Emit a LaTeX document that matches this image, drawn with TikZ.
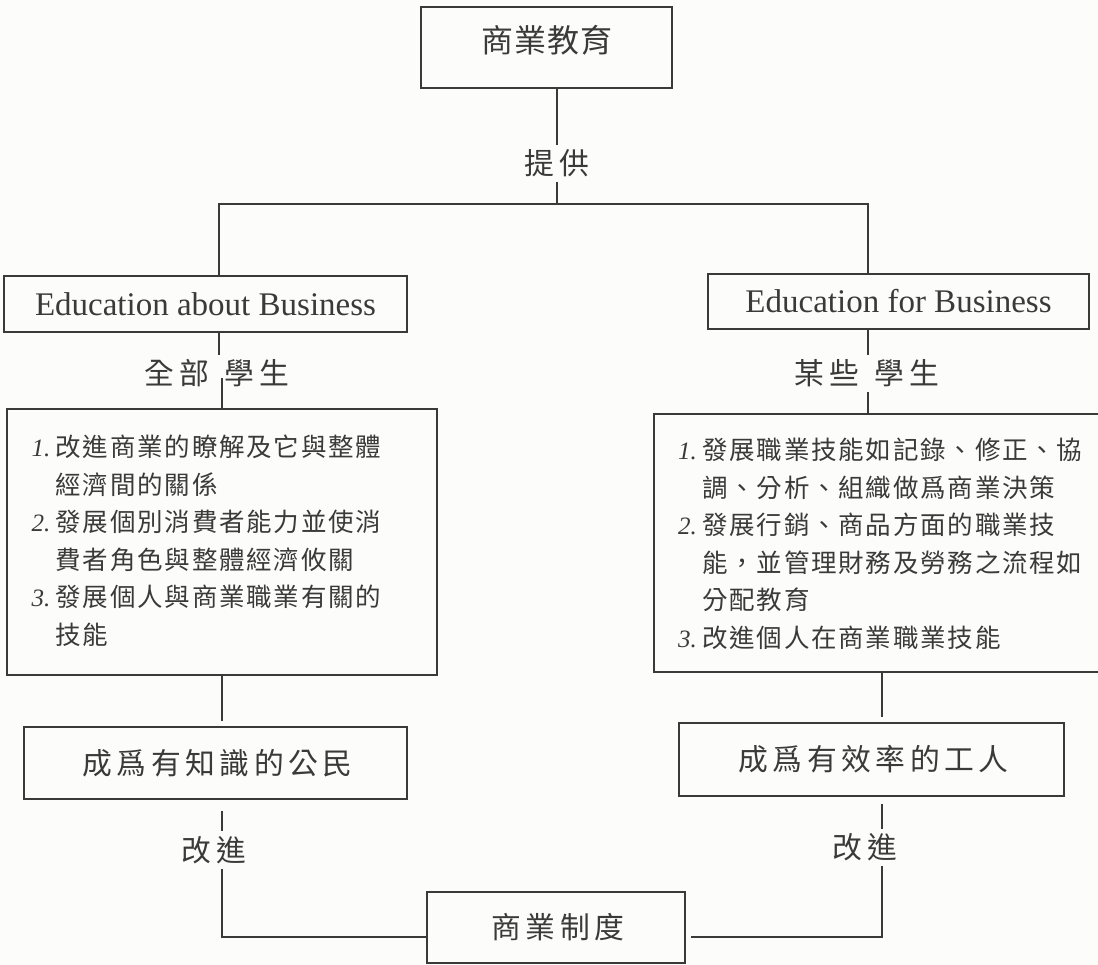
\documentclass[tikz,border=0pt]{standalone}
\usepackage{fontspec}
\setmainfont{Liberation Serif}
\newfontfamily\cjktop[LetterSpace=4]{Noto Sans CJK TC}
\newfontfamily\cjkbig[LetterSpace=15]{Noto Sans CJK TC}
\newfontfamily\cjklist[LetterSpace=7]{Noto Sans CJK TC}
\newcommand\nm[1]{\makebox[24pt][l]{\rmfamily\itshape\fontsize{25}{25}\selectfont #1}}
\definecolor{ink}{RGB}{58,58,58}
\definecolor{paper}{RGB}{252,252,250}
\tikzset{
  box/.style={draw=ink, line width=1.4pt, inner sep=0pt, text=ink},
  toptxt/.style={font=\cjktop\fontsize{32}{36}\selectfont, text=ink, inner sep=0pt},
  bigtxt/.style={font=\cjkbig\fontsize{29.8}{34}\selectfont, text=ink, inner sep=0pt},
  lbl/.style={font=\cjkbig\fontsize{29.8}{34}\selectfont, text=ink, inner sep=5pt},
  entxt/.style={font=\fontsize{33}{36}\selectfont},
  listtxt/.style={font=\cjklist\fontsize{25.5}{37.5}\selectfont, text=ink, inner sep=0pt, align=left},
  conn/.style={draw=ink, line width=1.4pt},
}
\begin{document}
\begin{tikzpicture}[x=1pt,y=1pt]
\fill[paper] (0,0) rectangle (1098,-965);
\useasboundingbox (0,0) rectangle (1098,-965);

\node[box, minimum width=251pt, minimum height=81pt] (top) at (546.5,-47.5) {};
\node[toptxt] (toptext) at (547,-40.5) {商業教育};
\node[lbl] (give) at (557,-163.5) {提供};
\coordinate (lc) at (219,-204);
\coordinate (rc) at (868,-204);

\node[box, entxt, minimum width=403pt, minimum height=56pt] (ea) at (205.5,-304) {Education about Business};
\node[box, entxt, minimum width=381pt, minimum height=55pt] (ef) at (898.5,-301.5) {Education for Business};

\node[lbl] (all) at (217,-373.5) {全部\hspace{16pt}學生};
\node[lbl] (some) at (867,-373.5) {某些\hspace{16pt}學生};

\node[box, minimum width=430pt, minimum height=266pt] (lb) at (222,-542) {};
\node[box, minimum width=456pt, minimum height=258pt] (rb) at (882,-543) {};

\node[listtxt, anchor=north west] (lt) at (31.5,-435) {%
\nm{1.}改進商業的瞭解及它與整體\\
\hspace*{24pt}經濟間的關係\\
\nm{2.}發展個別消費者能力並使消\\
\hspace*{24pt}費者角色與整體經濟攸關\\
\nm{3.}發展個人與商業職業有關的\\
\hspace*{24pt}技能};

\node[listtxt, anchor=north west] (rt) at (678,-438) {%
\nm{1.}發展職業技能如記錄、修正、協\\
\hspace*{24pt}調、分析、組織做爲商業決策\\
\nm{2.}發展行銷、商品方面的職業技\\
\hspace*{24pt}能，並管理財務及勞務之流程如\\
\hspace*{24pt}分配教育\\
\nm{3.}改進個人在商業職業技能};

\node[box, bigtxt, minimum width=383pt, minimum height=72pt] (lk) at (215.5,-763) {\kern4pt成爲有知識的公民};
\node[box, bigtxt, minimum width=385pt, minimum height=73pt] (ew) at (871.5,-759.5) {\kern4pt成爲有效率的工人};

\node[lbl] (imp1) at (214,-850) {改進};
\node[lbl] (imp2) at (865,-847.5) {改進};

\node[box, bigtxt, minimum width=258pt, minimum height=71pt] (sys) at (556,-927.5) {\kern4pt商業制度};

\coordinate (lx) at (222,-937);
\coordinate (rx) at (882,-937);

\draw[conn] (top.south -| give) -- (give.north);
\draw[conn] (give.south) -- (give.south |- lc);
\draw[conn] (ea.north -| lc) -- (lc) -- (rc) -- (ef.north -| rc);
\draw[conn] (ea.south -| lc) -- (all.north -| lc);
\draw[conn] ([yshift=-5pt]all.center -| lx) -- (lb.north -| lx);
\draw[conn] (ef.south -| rc) -- (some.north -| rc);
\draw[conn] (some.south -| rc) -- (rb.north -| rc);
\draw[conn, shorten >=5pt] (lb.south -| lx) -- (lk.north -| lx);
\draw[conn, shorten <=11pt] (lk.south -| lx) -- (imp1.north -| lx);
\draw[conn] (imp1.south -| lx) -- (lx) -- (sys.west |- lx);
\draw[conn, shorten >=5pt] (rb.south -| rx) -- (ew.north -| rx);
\draw[conn, shorten <=7pt] (ew.south -| rx) -- (imp2.north -| rx);
\draw[conn, shorten >=5pt] (imp2.south -| rx) -- (rx) -- (sys.east |- rx);
\end{tikzpicture}
\end{document}
